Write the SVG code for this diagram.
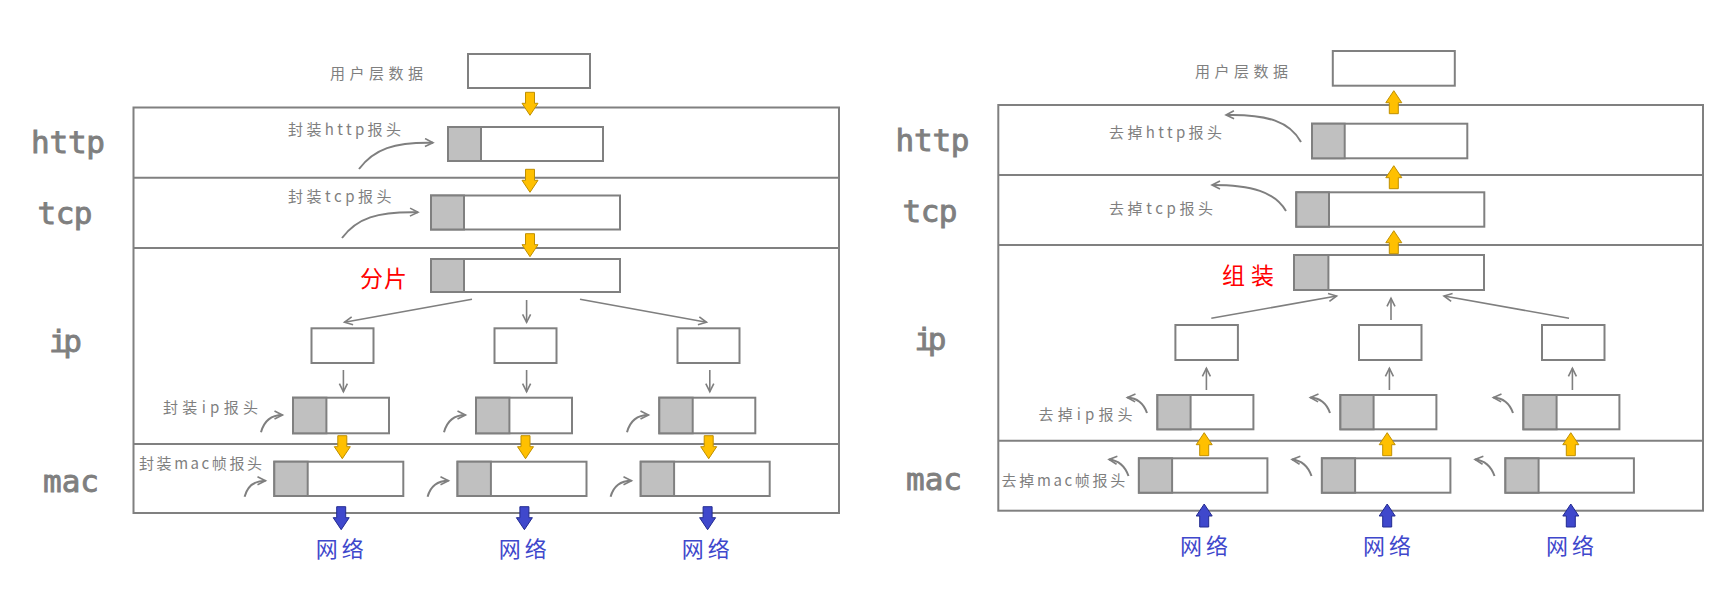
<svg xmlns="http://www.w3.org/2000/svg" xmlns:xlink="http://www.w3.org/1999/xlink" width="1714" height="614" viewBox="0 0 1714 614">
<style>
  .frame{fill:none;stroke:#808080;stroke-width:2}
  .div{stroke:#808080;stroke-width:2}
  .box{fill:#fff;stroke:#808080;stroke-width:2}
  .hdr{fill:#c0c0c0;stroke:#808080;stroke-width:2}
  .layer{font-family:"DejaVu Sans Mono","Liberation Mono",monospace;font-weight:normal;font-size:31px;fill:#7f7f7f;stroke:#7f7f7f;stroke-width:0.9px}
  .lbl{font-family:"Noto Sans CJK SC","DejaVu Sans",sans-serif;font-size:15px;fill:#7f7f7f}
  .red{font-family:"Noto Sans CJK SC",sans-serif;font-size:23px;fill:#ff0000}
  .net{font-family:"Noto Sans CJK SC",sans-serif;font-size:22px;fill:#3f48cc;letter-spacing:4px}
  .yel{fill:#ffc000;stroke:#bf8f00;stroke-width:1}
  .blu{fill:#3f48cc;stroke:#222a90;stroke-width:1}
  .thin{fill:none;stroke:#7f7f7f;stroke-width:1.6;marker-end:url(#oa)}
  .curve{fill:none;stroke:#7f7f7f;stroke-width:2;marker-end:url(#oa)}
</style>
<defs>
  <marker id="oa" markerUnits="userSpaceOnUse" markerWidth="12" markerHeight="12" refX="9" refY="5" orient="auto">
    <path d="M1,1 L9,5 L1,9" fill="none" stroke="#7f7f7f" stroke-width="1.6"/>
  </marker>
  <path id="dn" d="M-4.5,0 H4.5 V11 H8 L0,23 L-8,11 H-4.5 Z"/>
  <path id="up" d="M-4.5,23 H4.5 V12 H8 L0,0 L-8,12 H-4.5 Z"/>
</defs>

<!-- ================= LEFT: encapsulation ================= -->
<g id="left-layer-labels">
  <text class="layer" x="31" y="152.5" textLength="74">http</text>
  <text class="layer" x="37.5" y="224" textLength="55">tcp</text>
  <text class="layer" x="49" y="351.5" textLength="33">ip</text>
  <text class="layer" x="43" y="492" textLength="56">mac</text>
</g>
<g id="left-stack">
  <rect class="frame" x="133.5" y="107.5" width="705.5" height="405.5"/>
  <line class="div" x1="133.5" y1="177.7" x2="839" y2="177.7"/>
  <line class="div" x1="133.5" y1="248" x2="839" y2="248"/>
  <line class="div" x1="133.5" y1="444" x2="839" y2="444"/>
</g>
<g id="left-userdata">
  <text class="lbl" x="330" y="79" textLength="93">用户层数据</text>
  <rect class="box" x="468" y="54" width="122" height="34"/>
</g>
<g id="left-http-pkt">
  <rect class="box" x="448" y="127" width="155" height="34"/>
  <rect class="hdr" x="448" y="127" width="33" height="34"/>
  <text class="lbl" x="288" y="135" textLength="113">封装http报头</text>
</g>
<g id="left-tcp-pkt">
  <rect class="box" x="431" y="195.5" width="189" height="34"/>
  <rect class="hdr" x="431" y="195.5" width="33" height="34"/>
  <text class="lbl" x="288" y="202" textLength="103.5">封装tcp报头</text>
</g>
<g id="left-ip-pkt">
  <rect class="box" x="431" y="259" width="189" height="33"/>
  <rect class="hdr" x="431" y="259" width="33" height="33"/>
  <text class="red" x="360" y="287" textLength="47">分片</text>
</g>
<g id="left-frag-1"><rect class="box" x="311.5" y="328.3" width="62" height="34.7"/></g>
<g id="left-frag-2"><rect class="box" x="494.5" y="328.3" width="62" height="34.7"/></g>
<g id="left-frag-3"><rect class="box" x="677.5" y="328.3" width="62" height="34.7"/></g>
<g id="left-ip-label"><text class="lbl" x="163" y="413" textLength="95">封装ip报头</text></g>
<g id="left-iphdr-1"><rect class="box" x="293" y="397.7" width="96" height="35.6"/><rect class="hdr" x="293" y="397.7" width="33.4" height="35.6"/></g>
<g id="left-iphdr-2"><rect class="box" x="476" y="397.7" width="96" height="35.6"/><rect class="hdr" x="476" y="397.7" width="33.4" height="35.6"/></g>
<g id="left-iphdr-3"><rect class="box" x="659.3" y="397.7" width="96" height="35.6"/><rect class="hdr" x="659.3" y="397.7" width="33.4" height="35.6"/></g>
<g id="left-mac-label"><text class="lbl" x="139" y="469" textLength="123">封装mac帧报头</text></g>
<g id="left-mac-1"><rect class="box" x="274.3" y="461.7" width="129" height="34.3"/><rect class="hdr" x="274.3" y="461.7" width="33.4" height="34.3"/></g>
<g id="left-mac-2"><rect class="box" x="457.5" y="461.7" width="129" height="34.3"/><rect class="hdr" x="457.5" y="461.7" width="33.4" height="34.3"/></g>
<g id="left-mac-3"><rect class="box" x="640.7" y="461.7" width="129" height="34.3"/><rect class="hdr" x="640.7" y="461.7" width="33.4" height="34.3"/></g>
<g id="left-net-1"><text class="net" x="341.7" y="557" text-anchor="middle">网络</text></g>
<g id="left-net-2"><text class="net" x="524.7" y="557" text-anchor="middle">网络</text></g>
<g id="left-net-3"><text class="net" x="707.7" y="557" text-anchor="middle">网络</text></g>

<!-- ================= RIGHT: decapsulation ================= -->
<g id="right-layer-labels">
  <text class="layer" x="895.5" y="151" textLength="74">http</text>
  <text class="layer" x="902.5" y="222" textLength="55">tcp</text>
  <text class="layer" x="914.5" y="349.5" textLength="32">ip</text>
  <text class="layer" x="906" y="489.5" textLength="56">mac</text>
</g>
<g id="right-stack">
  <rect class="frame" x="998.3" y="105" width="704.7" height="405.7"/>
  <line class="div" x1="998.3" y1="175" x2="1703" y2="175"/>
  <line class="div" x1="998.3" y1="245" x2="1703" y2="245"/>
  <line class="div" x1="998.3" y1="440.7" x2="1703" y2="440.7"/>
</g>
<g id="right-userdata">
  <text class="lbl" x="1195" y="77" textLength="93">用户层数据</text>
  <rect class="box" x="1332.8" y="51" width="122" height="34.7"/>
</g>
<g id="right-http-pkt">
  <rect class="box" x="1312" y="123.7" width="155.3" height="34.6"/>
  <rect class="hdr" x="1312" y="123.7" width="32.7" height="34.6"/>
  <text class="lbl" x="1109" y="138" textLength="113">去掉http报头</text>
</g>
<g id="right-tcp-pkt">
  <rect class="box" x="1296.3" y="192.3" width="188" height="34.4"/>
  <rect class="hdr" x="1296.3" y="192.3" width="32.7" height="34.4"/>
  <text class="lbl" x="1109" y="213.5" textLength="104">去掉tcp报头</text>
</g>
<g id="right-ip-pkt">
  <rect class="box" x="1294" y="255" width="190" height="35"/>
  <rect class="hdr" x="1294" y="255" width="34.4" height="35"/>
  <text class="red" x="1222" y="284" textLength="52">组装</text>
</g>
<g id="right-frag-1"><rect class="box" x="1175.4" y="325" width="62.5" height="35"/></g>
<g id="right-frag-2"><rect class="box" x="1359" y="325" width="62.5" height="35"/></g>
<g id="right-frag-3"><rect class="box" x="1542" y="325" width="62.5" height="35"/></g>
<g id="right-ip-label"><text class="lbl" x="1038.6" y="420" textLength="94">去掉ip报头</text></g>
<g id="right-iphdr-1"><rect class="box" x="1157.4" y="395" width="96" height="34.3"/><rect class="hdr" x="1157.4" y="395" width="33.2" height="34.3"/></g>
<g id="right-iphdr-2"><rect class="box" x="1340.4" y="395" width="96" height="34.3"/><rect class="hdr" x="1340.4" y="395" width="33.2" height="34.3"/></g>
<g id="right-iphdr-3"><rect class="box" x="1523.4" y="395" width="96" height="34.3"/><rect class="hdr" x="1523.4" y="395" width="33.2" height="34.3"/></g>
<g id="right-mac-label"><text class="lbl" x="1001.6" y="486" textLength="123.6">去掉mac帧报头</text></g>
<g id="right-mac-1"><rect class="box" x="1138.9" y="458.3" width="128.5" height="34.4"/><rect class="hdr" x="1138.9" y="458.3" width="33.2" height="34.4"/></g>
<g id="right-mac-2"><rect class="box" x="1321.9" y="458.3" width="128.5" height="34.4"/><rect class="hdr" x="1321.9" y="458.3" width="33.2" height="34.4"/></g>
<g id="right-mac-3"><rect class="box" x="1505.4" y="458.3" width="128.5" height="34.4"/><rect class="hdr" x="1505.4" y="458.3" width="33.2" height="34.4"/></g>
<g id="right-net-1"><text class="net" x="1206" y="554" text-anchor="middle">网络</text></g>
<g id="right-net-2"><text class="net" x="1389" y="554" text-anchor="middle">网络</text></g>
<g id="right-net-3"><text class="net" x="1572" y="554" text-anchor="middle">网络</text></g>

<!-- ================= CONNECTORS ================= -->
<g id="connectors">
  <!-- left: block arrows -->
  <use xlink:href="#dn" href="#dn" class="yel" x="530" y="92.3"/>
  <use xlink:href="#dn" href="#dn" class="yel" x="530" y="169.3"/>
  <use xlink:href="#dn" href="#dn" class="yel" x="530" y="233.7"/>
  <use xlink:href="#dn" href="#dn" class="yel" x="342.3" y="435.7"/>
  <use xlink:href="#dn" href="#dn" class="yel" x="525.5" y="435.7"/>
  <use xlink:href="#dn" href="#dn" class="yel" x="708.7" y="435.7"/>
  <use xlink:href="#dn" href="#dn" class="blu" x="341.2" y="506.7"/>
  <use xlink:href="#dn" href="#dn" class="blu" x="524.4" y="506.7"/>
  <use xlink:href="#dn" href="#dn" class="blu" x="707.6" y="506.7"/>
  <!-- left: thin arrows -->
  <path class="curve" d="M359,169 C374,149 394,142 433,142.7"/>
  <path class="curve" d="M342,238 C357,218 377,211.5 418,212.3"/>
  <path class="thin" d="M472,299.3 L344.5,322.3"/>
  <path class="thin" d="M526.6,300 L526.6,322.3"/>
  <path class="thin" d="M580,299.3 L706.5,322.3"/>
  <path class="thin" d="M343.4,370 L343.4,391.7"/>
  <path class="thin" d="M526.6,370 L526.6,391.7"/>
  <path class="thin" d="M709.8,370 L709.8,391.7"/>
  <path class="curve" d="M261,432.3 C264,421 271,415 282.5,415"/>
  <path class="curve" d="M444,432.3 C447,421 454,415 465.5,415"/>
  <path class="curve" d="M627,432.3 C630,421 637,415 648.5,415"/>
  <path class="curve" d="M244.6,496.7 C247.6,485.7 254,480.7 265.5,480.7"/>
  <path class="curve" d="M427.6,496.7 C430.6,485.7 437,480.7 448.5,480.7"/>
  <path class="curve" d="M610.6,496.7 C613.6,485.7 620,480.7 631.5,480.7"/>

  <!-- right: block arrows -->
  <use xlink:href="#up" href="#up" class="yel" x="1393.8" y="90.7"/>
  <use xlink:href="#up" href="#up" class="yel" x="1393.8" y="165.7"/>
  <use xlink:href="#up" href="#up" class="yel" x="1393.8" y="230.7"/>
  <use xlink:href="#up" href="#up" class="yel" x="1204.2" y="432.7"/>
  <use xlink:href="#up" href="#up" class="yel" x="1387.2" y="432.7"/>
  <use xlink:href="#up" href="#up" class="yel" x="1570.8" y="432.7"/>
  <use xlink:href="#up" href="#up" class="blu" x="1204.2" y="504"/>
  <use xlink:href="#up" href="#up" class="blu" x="1387.2" y="504"/>
  <use xlink:href="#up" href="#up" class="blu" x="1570.8" y="504"/>
  <!-- right: thin arrows -->
  <path class="curve" d="M1301,142 C1290,122 1268,114 1226,115"/>
  <path class="curve" d="M1286,211 C1275,192 1252,185 1212,185"/>
  <path class="thin" d="M1211.3,318.3 L1336.6,296"/>
  <path class="thin" d="M1391,320 L1391,298.3"/>
  <path class="thin" d="M1569,318.3 L1444,296"/>
  <path class="thin" d="M1206.4,390 L1206.4,368.3"/>
  <path class="thin" d="M1389.4,390 L1389.4,368.3"/>
  <path class="thin" d="M1572.4,390 L1572.4,368.3"/>
  <path class="curve" d="M1147,413 C1143.5,403 1137.5,398 1127.3,397.5"/>
  <path class="curve" d="M1330,413 C1326.5,403 1320.5,398 1310.3,397.5"/>
  <path class="curve" d="M1513,413 C1509.5,403 1503.5,398 1493.3,397.5"/>
  <path class="curve" d="M1128.5,476 C1125,466 1119,460.5 1109,459.5"/>
  <path class="curve" d="M1311.5,476 C1308,466 1302,460.5 1292,459.5"/>
  <path class="curve" d="M1494.5,476 C1491,466 1485,460.5 1475,459.5"/>
</g>
</svg>
